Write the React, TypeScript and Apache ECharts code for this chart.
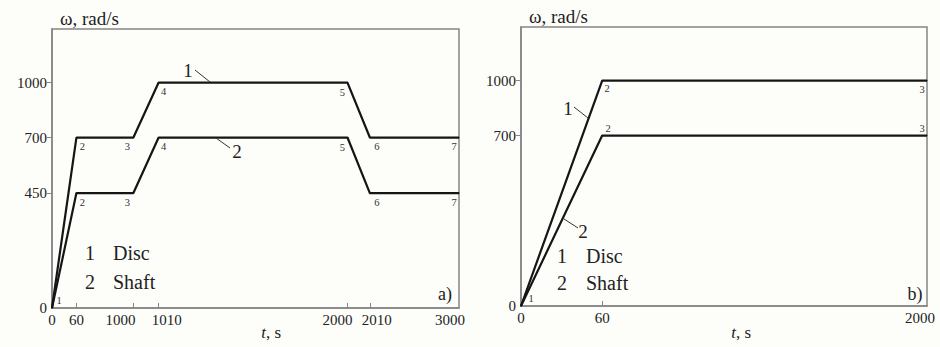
import React, { useEffect, useRef } from "react";
import * as echarts from "echarts";

// ---- axis ticks (real values) and their schematic placement (per mille of axis length)
const tTicksA = [0, 60, 1000, 1010, 2000, 2010, 3000];
const tLayoutA = [0, 60, 200, 262, 726, 781, 1000];
const tTicksB = [0, 60, 2000];
const tLayoutB = [0, 200, 1000];
const omegaTicks = [0, 450, 700, 1000];
const omegaLayout = [0, 412, 611, 808];
const omegaTicksA = [0, 450, 700, 1000];
const omegaTicksB = [0, 700, 1000];

// ---- panel a) data
const tA = [0, 60, 1000, 1010, 2000, 2010, 3000];
const omegaDiscA = [0, 700, 700, 1000, 1000, 700, 700];
const omegaShaftA = [0, 450, 450, 700, 700, 450, 450];
const tagsDiscA = ["1", "2", "3", "4", "5", "6", "7"];
const tagsShaftA = ["", "2", "3", "4", "5", "6", "7"];

// ---- panel b) data
const tB = [0, 60, 2000];
const omegaDiscB = [0, 1000, 1000];
const omegaShaftB = [0, 700, 700];
const tagsDiscB = ["1", "2", "3"];
const tagsShaftB = ["", "2", "3"];

const legendNames = ["Disc", "Shaft"];

const FONT = "Liberation Serif, Times New Roman, serif";
const TXT = "#222";
const FRAME = "#858585";
const LINE = "#151515";

// horizontal nudges of the time tick labels (px), as in the reference
const tLabelShiftA = [0, 0, -13, 8, -10, 7, -9];
const tLabelShiftB = [0, 0, -7];

function place(v: number, ticks: number[], layout: number[]): number {
  for (let i = 0; i < ticks.length - 1; i++) {
    if (v <= ticks[i + 1]) {
      const f = (v - ticks[i]) / (ticks[i + 1] - ticks[i]);
      return layout[i] + f * (layout[i + 1] - layout[i]);
    }
  }
  return layout[layout.length - 1];
}

function nearestIndex(val: number, pos: number[]): number {
  let best = 0;
  for (let i = 1; i < pos.length; i++) {
    if (Math.abs(pos[i] - val) < Math.abs(pos[best] - val)) best = i;
  }
  return best;
}

const offA = [[7, -8], [6, 9], [-6, 9], [5, 9], [-5, 10], [7, 9], [-5, 9]];
const offDiscB = [[10, -8], [5, 8], [-5, 9]];
const offShaftB = [[0, 0], [6, -7], [-5, -7]];

function buildData(
  ts: number[],
  ws: number[],
  tags: string[],
  offs: number[][],
  tTicks: number[],
  tLayout: number[]
) {
  return ts.map((t, i) => ({
    value: [place(t, tTicks, tLayout), place(ws[i], omegaTicks, omegaLayout)],
    label: {
      show: tags[i] !== "",
      formatter: tags[i],
      position: "inside",
      offset: offs[i],
      fontSize: 10.5,
      fontFamily: FONT,
      color: "#333",
    },
  }));
}

function xAxisFor(gridIndex: number, ticks: number[], layout: number[], shifts: number[]) {
  const rich: any = {};
  shifts.forEach((s, k) => {
    rich["s" + k] = {
      fontFamily: FONT,
      fontSize: 15,
      color: TXT,
      padding: s < 0 ? [0, -2 * s, 0, 0] : [0, 0, 0, 2 * s],
    };
  });
  return {
    type: "value",
    gridIndex,
    min: 0,
    max: 1000,
    axisLine: { show: true, lineStyle: { color: FRAME, width: 1.5 } },
    axisTick: {
      show: true,
      inside: true,
      length: 5,
      customValues: layout.slice(1, -1),
      lineStyle: { color: FRAME, width: 1 },
    },
    axisLabel: {
      show: true,
      customValues: layout,
      margin: 4,
      fontFamily: FONT,
      fontSize: 15,
      color: TXT,
      formatter: (v: number) => {
        const k = nearestIndex(v, layout);
        return "{s" + k + "|" + ticks[k] + "}";
      },
      rich,
    },
    splitLine: { show: false },
  };
}

function yAxisFor(gridIndex: number, labels: number[]) {
  const pos = labels.map((v) => place(v, omegaTicks, omegaLayout));
  return {
    type: "value",
    gridIndex,
    min: 0,
    max: 1000,
    name: "ω, rad/s",
    nameLocation: "end",
    nameGap: 11,
    nameTextStyle: {
      fontFamily: FONT,
      fontSize: 19,
      color: TXT,
      align: "left",
      verticalAlign: "middle",
      padding: [0, 0, 0, 8],
    },
    axisLine: { show: true, lineStyle: { color: FRAME, width: 1.5 } },
    axisTick: {
      show: true,
      inside: false,
      length: 5,
      customValues: pos.filter((p) => p > 0),
      lineStyle: { color: FRAME, width: 1 },
    },
    axisLabel: {
      show: true,
      customValues: pos,
      margin: 5,
      fontFamily: FONT,
      fontSize: 15,
      color: TXT,
      formatter: (v: number) => String(labels[nearestIndex(v, pos)]),
    },
    splitLine: { show: false },
  };
}

function lineSeries(name: string, idx: number, data: any[]) {
  return {
    type: "line",
    name,
    xAxisIndex: idx,
    yAxisIndex: idx,
    data,
    symbol: "circle",
    symbolSize: 1,
    itemStyle: { color: LINE },
    lineStyle: { color: LINE, width: 2.2 },
    z: 5,
  };
}

function txt(x: number, y: number, text: string, size: number, align = "center", italic = false) {
  return {
    type: "text",
    x,
    y,
    style: {
      text,
      fontFamily: FONT,
      fontSize: size,
      fontStyle: italic ? "italic" : "normal",
      fill: TXT,
      align,
      verticalAlign: "middle",
    },
    z: 10,
  };
}

function leader(x1: number, y1: number, x2: number, y2: number) {
  return {
    type: "line",
    shape: { x1, y1, x2, y2 },
    style: { stroke: "#333", lineWidth: 1 },
    z: 10,
  };
}

export default function App() {
  const ref = useRef<HTMLDivElement>(null);

  useEffect(() => {
    if (!ref.current) return;
    const chart = echarts.init(ref.current, null, { renderer: "svg" });
    const option: any = {
      animation: false,
      backgroundColor: "#fdfdfa",
      textStyle: { fontFamily: FONT },
      grid: [
        {
          left: 52,
          top: 29,
          width: 407,
          height: 279,
          show: true,
          borderColor: FRAME,
          borderWidth: 1.5,
          backgroundColor: "transparent",
          containLabel: false,
          outerBoundsMode: "none",
        },
        {
          left: 521,
          top: 27,
          width: 406,
          height: 279,
          show: true,
          borderColor: FRAME,
          borderWidth: 1.5,
          backgroundColor: "transparent",
          containLabel: false,
          outerBoundsMode: "none",
        },
      ],
      xAxis: [
        xAxisFor(0, tTicksA, tLayoutA, tLabelShiftA),
        xAxisFor(1, tTicksB, tLayoutB, tLabelShiftB),
      ],
      yAxis: [yAxisFor(0, omegaTicksA), yAxisFor(1, omegaTicksB)],
      series: [
        lineSeries("Disc a", 0, buildData(tA, omegaDiscA, tagsDiscA, offA, tTicksA, tLayoutA)),
        lineSeries("Shaft a", 0, buildData(tA, omegaShaftA, tagsShaftA, offA, tTicksA, tLayoutA)),
        lineSeries("Disc b", 1, buildData(tB, omegaDiscB, tagsDiscB, offDiscB, tTicksB, tLayoutB)),
        lineSeries("Shaft b", 1, buildData(tB, omegaShaftB, tagsShaftB, offShaftB, tTicksB, tLayoutB)),
      ],
      graphic: [
        // axis titles "t, s"
        txt(266, 332, "t", 17, "right", true),
        txt(266, 332, ", s", 17, "left"),
        txt(736, 332, "t", 17, "right", true),
        txt(736, 332, ", s", 17, "left"),
        // panel a) callouts
        txt(188, 70, "1", 19),
        leader(195, 70, 210, 82),
        txt(237, 151, "2", 19),
        leader(216, 138, 230, 148),
        // panel a) legend
        txt(90, 253, "1", 20),
        txt(113, 253, legendNames[0], 20, "left"),
        txt(90, 282, "2", 20),
        txt(113, 282, legendNames[1], 20, "left"),
        txt(445, 294, "a)", 18),
        // panel b) callouts
        txt(568, 108, "1", 19),
        leader(574, 107, 588, 118),
        txt(583, 231, "2", 19),
        leader(564, 219, 578, 228),
        // panel b) legend
        txt(562, 256, "1", 20),
        txt(586, 256, legendNames[0], 20, "left"),
        txt(562, 283, "2", 20),
        txt(586, 283, legendNames[1], 20, "left"),
        txt(915, 294, "b)", 18),
      ],
    };
    chart.setOption(option);
    return () => chart.dispose();
  }, []);

  return (
    <div
      ref={ref}
      style={{ position: "fixed", left: 0, top: 0, width: 940, height: 347, background: "#fdfdfa" }}
    />
  );
}
